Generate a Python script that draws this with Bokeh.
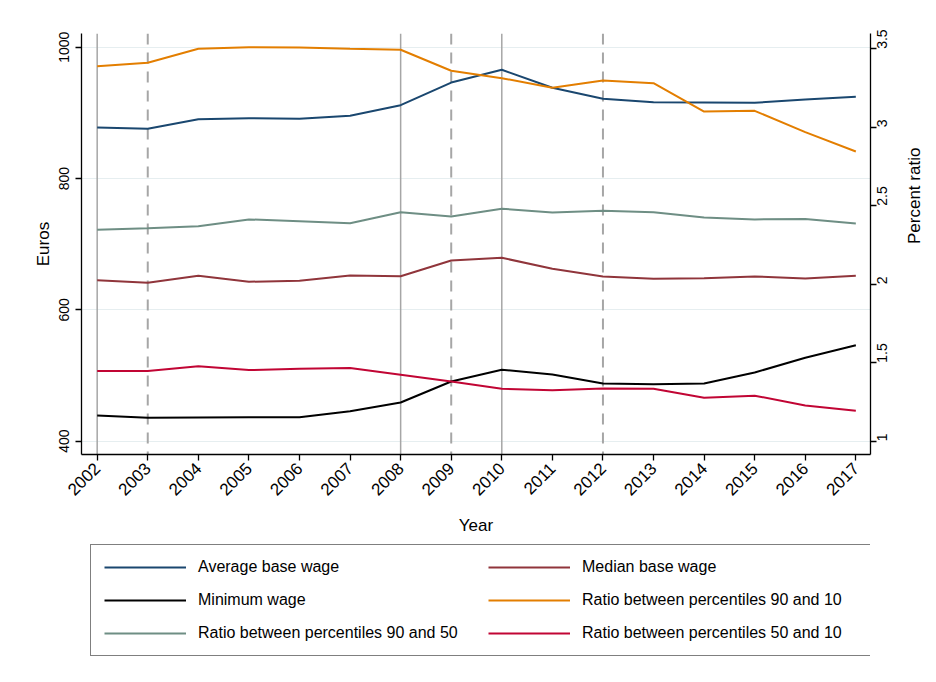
import math

from bokeh.embed import file_html
from bokeh.layouts import column
from bokeh.models import (CustomJSTickFormatter, FixedTicker, Legend,
                          LegendItem, LinearAxis, Range1d, Span, Title)
from bokeh.plotting import figure
from bokeh.resources import INLINE

# ---- data -------------------------------------------------------------
years = list(range(2002, 2018))

# wages in euros (left axis)
average_wage = [877.7, 875.7, 890.4, 891.9, 891.0, 895.5, 911.7, 946.2,
                965.6, 938.2, 921.4, 916.2, 915.8, 915.3, 920.4, 924.5]
median_wage = [645.2, 641.2, 651.9, 642.8, 644.3, 652.4, 651.3, 675.2,
               679.3, 662.6, 650.8, 647.3, 648.2, 650.8, 647.8, 651.9]
minimum_wage = [439.2, 435.7, 436.1, 436.6, 436.6, 445.7, 458.9, 490.9,
                508.8, 501.6, 487.9, 486.8, 487.9, 504.6, 527.0, 546.2]

# percentile ratios (right axis)
ratio_90_10 = [3.389, 3.411, 3.500, 3.510, 3.508, 3.500, 3.494, 3.360,
               3.313, 3.252, 3.298, 3.281, 3.100, 3.105, 2.969, 2.846]
ratio_90_50 = [2.347, 2.357, 2.370, 2.413, 2.402, 2.389, 2.459, 2.432,
               2.481, 2.457, 2.468, 2.459, 2.425, 2.413, 2.415, 2.387]
ratio_50_10 = [1.447, 1.447, 1.478, 1.453, 1.462, 1.466, 1.424, 1.381,
               1.334, 1.324, 1.336, 1.334, 1.277, 1.290, 1.228, 1.194]

# reference years marked with vertical lines
solid_marks = [2002, 2008, 2010]
dashed_marks = [2003, 2009, 2012]

euro_ticks = [400, 600, 800, 1000]
ratio_ticks = [1, 1.5, 2, 2.5, 3, 3.5]

series = [
    # label, values, colour, axis
    ("Average base wage", average_wage, "#1a476f", "default"),
    ("Median base wage", median_wage, "#90353b", "default"),
    ("Minimum wage", minimum_wage, "black", "default"),
    ("Ratio between percentiles 90 and 10", ratio_90_10, "#e37e00", "ratio"),
    ("Ratio between percentiles 90 and 50", ratio_90_50, "#6e8e84", "ratio"),
    ("Ratio between percentiles 50 and 10", ratio_50_10, "#c10534", "ratio"),
]

FONT = "Liberation Sans"

# ---- main chart ---------------------------------------------------------
p = figure(
    width=936, height=540,
    output_backend="svg", toolbar_location=None,
    x_range=Range1d(2001.69, 2017.29),
    y_range=Range1d(379.7, 1020.9),
    min_border_left=81, min_border_right=64,
    min_border_top=33, min_border_bottom=86,
    outline_line_color=None,
    background_fill_color="white", border_fill_color="white",
)
p.extra_y_ranges = {"ratio": Range1d(0.9153, 3.5975)}

right_axis = LinearAxis(
    y_range_name="ratio",
    ticker=FixedTicker(ticks=ratio_ticks),
    formatter=CustomJSTickFormatter(code="return tick.toString();"),
)
p.add_layout(right_axis, "right")

p.xaxis.ticker = FixedTicker(ticks=years)
p.xaxis.major_label_orientation = math.pi / 4
p.xaxis.axis_label = "Year"
p.xaxis.axis_label_standoff = 12

left_axis = p.yaxis[0]
left_axis.ticker = FixedTicker(ticks=euro_ticks)
left_axis.axis_label = "Euros"
left_axis.axis_label_standoff = 4

for ax in p.axis:
    ax.axis_line_color = "black"
    ax.axis_line_width = 1.3
    ax.major_tick_line_color = "black"
    ax.major_tick_line_width = 1.3
    ax.major_tick_out = 6
    ax.major_tick_in = 0
    ax.minor_tick_line_color = None
    ax.major_label_text_font = FONT
    ax.major_label_text_color = "black"
    ax.axis_label_text_font = FONT
    ax.axis_label_text_font_style = "normal"
    ax.axis_label_text_font_size = "17px"
    ax.axis_label_text_color = "black"

p.xaxis.major_label_text_font_size = "17px"
for ax in (left_axis, right_axis):
    ax.major_label_text_font_size = "14px"
    ax.major_label_standoff = 6
left_axis.major_label_orientation = "vertical"
right_axis.major_label_orientation = math.pi / 2

# right-hand axis title, reading upwards
if "axis_label_orientation" in LinearAxis.properties():
    right_axis.axis_label = "Percent ratio"
    right_axis.axis_label_orientation = math.pi / 2
    right_axis.axis_label_standoff = 19
else:
    p.add_layout(Title(text="Percent ratio", align="center",
                       text_font=FONT, text_font_size="17px",
                       text_font_style="normal"), "right")

p.xgrid.visible = False
p.ygrid.grid_line_color = "#e6eef0"
p.ygrid.grid_line_width = 1

# vertical reference lines
for yr in solid_marks:
    p.add_layout(Span(location=yr, dimension="height", line_color="#a6a6a6",
                      line_width=1.5, level="underlay"))
for yr in dashed_marks:
    p.add_layout(Span(location=yr, dimension="height", line_color="#a6a6a6",
                      line_width=2, line_dash="11 8", level="underlay"))

for label, values, colour, axis_name in series:
    p.line(years, values, line_color=colour, line_width=2,
           y_range_name=axis_name)

# ---- legend strip below the chart -------------------------------------
key = figure(
    width=936, height=142,
    output_backend="svg", toolbar_location=None,
    x_range=Range1d(0, 1), y_range=Range1d(0, 1),
    x_axis_type=None, y_axis_type=None,
    min_border=0, outline_line_color=None,
    background_fill_color="white", border_fill_color="white",
)
key.grid.visible = False

# the key's own ranges sit far from the data, so only the legend swatches show
key_items = {}
for label, values, colour, axis_name in series:
    r = key.line(years, values, line_color=colour, line_width=2)
    key_items[label] = LegendItem(label=label, renderers=[r])

# column-major order: left column first, then right column
order = [
    "Average base wage",
    "Minimum wage",
    "Ratio between percentiles 90 and 50",
    "Median base wage",
    "Ratio between percentiles 90 and 10",
    "Ratio between percentiles 50 and 10",
]

legend = Legend(
    items=[key_items[name] for name in order],
    location=(9, 26),
    orientation="vertical",
    ncols=2,
    glyph_width=82, glyph_height=18,
    label_standoff=12, label_width=275, label_height=18,
    spacing=15, padding=13, margin=0,
    border_line_color="black", border_line_width=1,
    background_fill_color="white", background_fill_alpha=1,
    label_text_font=FONT, label_text_font_size="16px", label_text_color="black",
)
key.add_layout(legend)

open("out.html", "w").write(file_html(column(p, key, spacing=0), INLINE))
